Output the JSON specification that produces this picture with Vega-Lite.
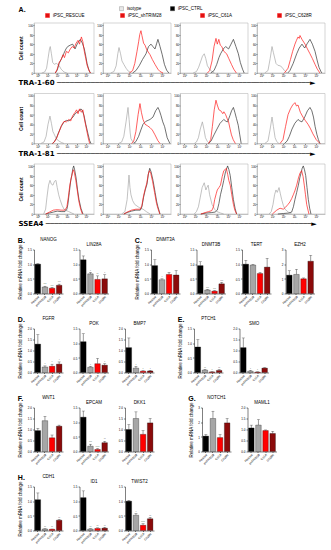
{
"$schema":"https://vega.github.io/schema/vega-lite/v6.json",
"padding":{"left":17,"top":5,"right":2,"bottom":2},
"config":{
 "font":"Liberation Sans",
 "view":{"stroke":null},
 "axis":{"labelFontSize":3,"titleFontSize":4.5,"titleFontWeight":"normal","tickSize":1.5,"tickWidth":0.5,"domainWidth":0.5,"labelPadding":1,"titlePadding":4.5,"grid":false,"domainColor":"#000","tickColor":"#000","labelColor":"#000","titleColor":"#000","labelOverlap":false,"labelFlush":false},
 "title":{"fontSize":4.5,"fontWeight":"normal","offset":2,"color":"#000"}
},
"datasets":{
"TRA-1-60_RESCUE":[
{"s":"isotype","x":0.4,"y":0},{"s":"isotype","x":0.7,"y":2},{"s":"isotype","x":0.9,"y":10},{"s":"isotype","x":1.05,"y":30},{"s":"isotype","x":1.2,"y":50},{"s":"isotype","x":1.28,"y":55},{"s":"isotype","x":1.4,"y":40},{"s":"isotype","x":1.53,"y":22},{"s":"isotype","x":1.7,"y":18},{"s":"isotype","x":1.9,"y":20},{"s":"isotype","x":2.18,"y":16},{"s":"isotype","x":2.4,"y":8},{"s":"isotype","x":2.7,"y":2},{"s":"isotype","x":3.0,"y":0},
{"s":"iPSC_CTRL","x":1.8,"y":0},{"s":"iPSC_CTRL","x":2.0,"y":6},{"s":"iPSC_CTRL","x":2.2,"y":20},{"s":"iPSC_CTRL","x":2.45,"y":30},{"s":"iPSC_CTRL","x":2.67,"y":40},{"s":"iPSC_CTRL","x":2.9,"y":50},{"s":"iPSC_CTRL","x":3.08,"y":55},{"s":"iPSC_CTRL","x":3.35,"y":58},{"s":"iPSC_CTRL","x":3.6,"y":60},{"s":"iPSC_CTRL","x":3.84,"y":50},{"s":"iPSC_CTRL","x":4.1,"y":62},{"s":"iPSC_CTRL","x":4.39,"y":70},{"s":"iPSC_CTRL","x":4.6,"y":62},{"s":"iPSC_CTRL","x":4.8,"y":50},{"s":"iPSC_CTRL","x":4.95,"y":35},{"s":"iPSC_CTRL","x":5.08,"y":20},{"s":"iPSC_CTRL","x":5.25,"y":8},{"s":"iPSC_CTRL","x":5.42,"y":0},
{"s":"iPSC_RESCUE","x":1.8,"y":0},{"s":"iPSC_RESCUE","x":2.0,"y":8},{"s":"iPSC_RESCUE","x":2.2,"y":22},{"s":"iPSC_RESCUE","x":2.4,"y":28},{"s":"iPSC_RESCUE","x":2.6,"y":38},{"s":"iPSC_RESCUE","x":2.75,"y":32},{"s":"iPSC_RESCUE","x":2.95,"y":45},{"s":"iPSC_RESCUE","x":3.15,"y":42},{"s":"iPSC_RESCUE","x":3.35,"y":50},{"s":"iPSC_RESCUE","x":3.55,"y":55},{"s":"iPSC_RESCUE","x":3.75,"y":52},{"s":"iPSC_RESCUE","x":3.95,"y":62},{"s":"iPSC_RESCUE","x":4.15,"y":68},{"s":"iPSC_RESCUE","x":4.3,"y":60},{"s":"iPSC_RESCUE","x":4.5,"y":75},{"s":"iPSC_RESCUE","x":4.65,"y":65},{"s":"iPSC_RESCUE","x":4.8,"y":45},{"s":"iPSC_RESCUE","x":4.95,"y":30},{"s":"iPSC_RESCUE","x":5.1,"y":15},{"s":"iPSC_RESCUE","x":5.3,"y":4},{"s":"iPSC_RESCUE","x":5.45,"y":0}
],
"TRA-1-60_shTRIM28":[
{"s":"isotype","x":0.3,"y":0},{"s":"isotype","x":0.6,"y":3},{"s":"isotype","x":0.8,"y":15},{"s":"isotype","x":0.95,"y":40},{"s":"isotype","x":1.06,"y":53},{"s":"isotype","x":1.2,"y":40},{"s":"isotype","x":1.33,"y":25},{"s":"isotype","x":1.5,"y":18},{"s":"isotype","x":1.7,"y":10},{"s":"isotype","x":1.9,"y":4},{"s":"isotype","x":2.2,"y":0},
{"s":"iPSC_CTRL","x":2.3,"y":0},{"s":"iPSC_CTRL","x":2.6,"y":5},{"s":"iPSC_CTRL","x":2.9,"y":15},{"s":"iPSC_CTRL","x":3.2,"y":28},{"s":"iPSC_CTRL","x":3.52,"y":40},{"s":"iPSC_CTRL","x":3.75,"y":55},{"s":"iPSC_CTRL","x":3.98,"y":60},{"s":"iPSC_CTRL","x":4.15,"y":55},{"s":"iPSC_CTRL","x":4.34,"y":50},{"s":"iPSC_CTRL","x":4.5,"y":62},{"s":"iPSC_CTRL","x":4.61,"y":70},{"s":"iPSC_CTRL","x":4.8,"y":55},{"s":"iPSC_CTRL","x":5.0,"y":38},{"s":"iPSC_CTRL","x":5.2,"y":18},{"s":"iPSC_CTRL","x":5.4,"y":6},{"s":"iPSC_CTRL","x":5.6,"y":0},
{"s":"iPSC_shTRIM28","x":2.0,"y":0},{"s":"iPSC_shTRIM28","x":2.3,"y":5},{"s":"iPSC_shTRIM28","x":2.5,"y":20},{"s":"iPSC_shTRIM28","x":2.7,"y":45},{"s":"iPSC_shTRIM28","x":2.85,"y":65},{"s":"iPSC_shTRIM28","x":2.95,"y":80},{"s":"iPSC_shTRIM28","x":3.06,"y":88},{"s":"iPSC_shTRIM28","x":3.15,"y":78},{"s":"iPSC_shTRIM28","x":3.3,"y":62},{"s":"iPSC_shTRIM28","x":3.43,"y":58},{"s":"iPSC_shTRIM28","x":3.6,"y":48},{"s":"iPSC_shTRIM28","x":3.89,"y":38},{"s":"iPSC_shTRIM28","x":4.1,"y":28},{"s":"iPSC_shTRIM28","x":4.34,"y":18},{"s":"iPSC_shTRIM28","x":4.6,"y":8},{"s":"iPSC_shTRIM28","x":4.8,"y":3},{"s":"iPSC_shTRIM28","x":5.07,"y":0}
],
"TRA-1-60_C61A":[
{"s":"isotype","x":0.8,"y":0},{"s":"isotype","x":1.1,"y":3},{"s":"isotype","x":1.3,"y":12},{"s":"isotype","x":1.5,"y":25},{"s":"isotype","x":1.65,"y":35},{"s":"isotype","x":1.81,"y":40},{"s":"isotype","x":1.95,"y":30},{"s":"isotype","x":2.1,"y":15},{"s":"isotype","x":2.3,"y":8},{"s":"isotype","x":2.5,"y":3},{"s":"isotype","x":2.75,"y":0},
{"s":"iPSC_CTRL","x":2.4,"y":0},{"s":"iPSC_CTRL","x":2.7,"y":5},{"s":"iPSC_CTRL","x":2.95,"y":18},{"s":"iPSC_CTRL","x":3.15,"y":32},{"s":"iPSC_CTRL","x":3.3,"y":40},{"s":"iPSC_CTRL","x":3.55,"y":50},{"s":"iPSC_CTRL","x":3.76,"y":55},{"s":"iPSC_CTRL","x":4.03,"y":50},{"s":"iPSC_CTRL","x":4.25,"y":60},{"s":"iPSC_CTRL","x":4.47,"y":70},{"s":"iPSC_CTRL","x":4.7,"y":55},{"s":"iPSC_CTRL","x":4.92,"y":40},{"s":"iPSC_CTRL","x":5.1,"y":22},{"s":"iPSC_CTRL","x":5.3,"y":8},{"s":"iPSC_CTRL","x":5.45,"y":0},
{"s":"iPSC_C61A","x":2.1,"y":0},{"s":"iPSC_C61A","x":2.3,"y":5},{"s":"iPSC_C61A","x":2.52,"y":25},{"s":"iPSC_C61A","x":2.7,"y":55},{"s":"iPSC_C61A","x":2.88,"y":72},{"s":"iPSC_C61A","x":3.0,"y":60},{"s":"iPSC_C61A","x":3.14,"y":70},{"s":"iPSC_C61A","x":3.27,"y":58},{"s":"iPSC_C61A","x":3.41,"y":55},{"s":"iPSC_C61A","x":3.6,"y":45},{"s":"iPSC_C61A","x":3.85,"y":40},{"s":"iPSC_C61A","x":4.05,"y":30},{"s":"iPSC_C61A","x":4.29,"y":18},{"s":"iPSC_C61A","x":4.5,"y":8},{"s":"iPSC_C61A","x":4.74,"y":0}
],
"TRA-1-60_C628R":[
{"s":"isotype","x":0.3,"y":0},{"s":"isotype","x":0.6,"y":5},{"s":"isotype","x":0.8,"y":30},{"s":"isotype","x":0.97,"y":55},{"s":"isotype","x":1.1,"y":42},{"s":"isotype","x":1.33,"y":20},{"s":"isotype","x":1.5,"y":16},{"s":"isotype","x":1.7,"y":15},{"s":"isotype","x":1.88,"y":12},{"s":"isotype","x":2.1,"y":5},{"s":"isotype","x":2.34,"y":0},
{"s":"iPSC_CTRL","x":2.4,"y":0},{"s":"iPSC_CTRL","x":2.6,"y":5},{"s":"iPSC_CTRL","x":2.9,"y":20},{"s":"iPSC_CTRL","x":3.22,"y":40},{"s":"iPSC_CTRL","x":3.45,"y":52},{"s":"iPSC_CTRL","x":3.7,"y":60},{"s":"iPSC_CTRL","x":3.95,"y":52},{"s":"iPSC_CTRL","x":4.2,"y":62},{"s":"iPSC_CTRL","x":4.43,"y":70},{"s":"iPSC_CTRL","x":4.65,"y":60},{"s":"iPSC_CTRL","x":4.89,"y":45},{"s":"iPSC_CTRL","x":5.1,"y":25},{"s":"iPSC_CTRL","x":5.25,"y":12},{"s":"iPSC_CTRL","x":5.45,"y":2},{"s":"iPSC_CTRL","x":5.53,"y":0},
{"s":"iPSC_C628R","x":2.1,"y":0},{"s":"iPSC_C628R","x":2.43,"y":10},{"s":"iPSC_C628R","x":2.65,"y":28},{"s":"iPSC_C628R","x":2.85,"y":45},{"s":"iPSC_C628R","x":3.06,"y":60},{"s":"iPSC_C628R","x":3.2,"y":68},{"s":"iPSC_C628R","x":3.34,"y":75},{"s":"iPSC_C628R","x":3.45,"y":72},{"s":"iPSC_C628R","x":3.52,"y":78},{"s":"iPSC_C628R","x":3.7,"y":70},{"s":"iPSC_C628R","x":3.98,"y":60},{"s":"iPSC_C628R","x":4.2,"y":50},{"s":"iPSC_C628R","x":4.43,"y":40},{"s":"iPSC_C628R","x":4.65,"y":30},{"s":"iPSC_C628R","x":4.89,"y":18},{"s":"iPSC_C628R","x":5.1,"y":8},{"s":"iPSC_C628R","x":5.34,"y":0}
],
"TRA-1-81_RESCUE":[
{"s":"isotype","x":0.3,"y":0},{"s":"isotype","x":0.63,"y":3},{"s":"isotype","x":0.85,"y":15},{"s":"isotype","x":1.05,"y":40},{"s":"isotype","x":1.25,"y":57},{"s":"isotype","x":1.4,"y":42},{"s":"isotype","x":1.55,"y":25},{"s":"isotype","x":1.67,"y":20},{"s":"isotype","x":1.9,"y":10},{"s":"isotype","x":2.18,"y":5},{"s":"isotype","x":2.45,"y":2},{"s":"isotype","x":2.7,"y":0},
{"s":"iPSC_CTRL","x":1.5,"y":0},{"s":"iPSC_CTRL","x":1.67,"y":3},{"s":"iPSC_CTRL","x":1.9,"y":10},{"s":"iPSC_CTRL","x":2.08,"y":20},{"s":"iPSC_CTRL","x":2.4,"y":35},{"s":"iPSC_CTRL","x":2.7,"y":45},{"s":"iPSC_CTRL","x":2.95,"y":48},{"s":"iPSC_CTRL","x":3.22,"y":47},{"s":"iPSC_CTRL","x":3.45,"y":52},{"s":"iPSC_CTRL","x":3.63,"y":55},{"s":"iPSC_CTRL","x":3.85,"y":62},{"s":"iPSC_CTRL","x":4.04,"y":65},{"s":"iPSC_CTRL","x":4.25,"y":68},{"s":"iPSC_CTRL","x":4.46,"y":72},{"s":"iPSC_CTRL","x":4.6,"y":68},{"s":"iPSC_CTRL","x":4.77,"y":58},{"s":"iPSC_CTRL","x":4.95,"y":40},{"s":"iPSC_CTRL","x":5.18,"y":20},{"s":"iPSC_CTRL","x":5.35,"y":6},{"s":"iPSC_CTRL","x":5.49,"y":0},
{"s":"iPSC_RESCUE","x":1.5,"y":0},{"s":"iPSC_RESCUE","x":1.7,"y":3},{"s":"iPSC_RESCUE","x":1.95,"y":12},{"s":"iPSC_RESCUE","x":2.15,"y":22},{"s":"iPSC_RESCUE","x":2.45,"y":38},{"s":"iPSC_RESCUE","x":2.7,"y":46},{"s":"iPSC_RESCUE","x":2.95,"y":45},{"s":"iPSC_RESCUE","x":3.2,"y":50},{"s":"iPSC_RESCUE","x":3.4,"y":47},{"s":"iPSC_RESCUE","x":3.6,"y":58},{"s":"iPSC_RESCUE","x":3.85,"y":65},{"s":"iPSC_RESCUE","x":4.0,"y":70},{"s":"iPSC_RESCUE","x":4.15,"y":62},{"s":"iPSC_RESCUE","x":4.3,"y":72},{"s":"iPSC_RESCUE","x":4.5,"y":65},{"s":"iPSC_RESCUE","x":4.65,"y":70},{"s":"iPSC_RESCUE","x":4.8,"y":52},{"s":"iPSC_RESCUE","x":5.0,"y":32},{"s":"iPSC_RESCUE","x":5.2,"y":12},{"s":"iPSC_RESCUE","x":5.35,"y":0}
],
"TRA-1-81_shTRIM28":[
{"s":"isotype","x":1.0,"y":0},{"s":"isotype","x":1.3,"y":3},{"s":"isotype","x":1.5,"y":15},{"s":"isotype","x":1.7,"y":45},{"s":"isotype","x":1.88,"y":75},{"s":"isotype","x":1.98,"y":50},{"s":"isotype","x":2.08,"y":22},{"s":"isotype","x":2.15,"y":10},{"s":"isotype","x":2.3,"y":4},{"s":"isotype","x":2.6,"y":0},
{"s":"iPSC_CTRL","x":2.4,"y":0},{"s":"iPSC_CTRL","x":2.6,"y":4},{"s":"iPSC_CTRL","x":2.85,"y":15},{"s":"iPSC_CTRL","x":3.05,"y":28},{"s":"iPSC_CTRL","x":3.25,"y":40},{"s":"iPSC_CTRL","x":3.5,"y":46},{"s":"iPSC_CTRL","x":3.89,"y":50},{"s":"iPSC_CTRL","x":4.16,"y":55},{"s":"iPSC_CTRL","x":4.4,"y":68},{"s":"iPSC_CTRL","x":4.61,"y":75},{"s":"iPSC_CTRL","x":4.75,"y":68},{"s":"iPSC_CTRL","x":4.89,"y":58},{"s":"iPSC_CTRL","x":5.05,"y":45},{"s":"iPSC_CTRL","x":5.22,"y":35},{"s":"iPSC_CTRL","x":5.45,"y":12},{"s":"iPSC_CTRL","x":5.7,"y":0},
{"s":"iPSC_shTRIM28","x":2.2,"y":0},{"s":"iPSC_shTRIM28","x":2.4,"y":5},{"s":"iPSC_shTRIM28","x":2.6,"y":25},{"s":"iPSC_shTRIM28","x":2.8,"y":60},{"s":"iPSC_shTRIM28","x":2.97,"y":83},{"s":"iPSC_shTRIM28","x":3.1,"y":65},{"s":"iPSC_shTRIM28","x":3.25,"y":50},{"s":"iPSC_shTRIM28","x":3.43,"y":40},{"s":"iPSC_shTRIM28","x":3.65,"y":37},{"s":"iPSC_shTRIM28","x":3.89,"y":33},{"s":"iPSC_shTRIM28","x":4.1,"y":28},{"s":"iPSC_shTRIM28","x":4.34,"y":18},{"s":"iPSC_shTRIM28","x":4.6,"y":6},{"s":"iPSC_shTRIM28","x":4.8,"y":0}
],
"TRA-1-81_C61A":[
{"s":"isotype","x":0.9,"y":0},{"s":"isotype","x":1.1,"y":3},{"s":"isotype","x":1.28,"y":12},{"s":"isotype","x":1.45,"y":30},{"s":"isotype","x":1.64,"y":45},{"s":"isotype","x":1.78,"y":30},{"s":"isotype","x":1.92,"y":12},{"s":"isotype","x":2.1,"y":4},{"s":"isotype","x":2.3,"y":0},
{"s":"iPSC_CTRL","x":2.2,"y":0},{"s":"iPSC_CTRL","x":2.43,"y":5},{"s":"iPSC_CTRL","x":2.7,"y":18},{"s":"iPSC_CTRL","x":2.97,"y":30},{"s":"iPSC_CTRL","x":3.25,"y":42},{"s":"iPSC_CTRL","x":3.59,"y":50},{"s":"iPSC_CTRL","x":3.8,"y":46},{"s":"iPSC_CTRL","x":3.94,"y":45},{"s":"iPSC_CTRL","x":4.15,"y":58},{"s":"iPSC_CTRL","x":4.3,"y":68},{"s":"iPSC_CTRL","x":4.47,"y":75},{"s":"iPSC_CTRL","x":4.6,"y":65},{"s":"iPSC_CTRL","x":4.75,"y":52},{"s":"iPSC_CTRL","x":4.91,"y":38},{"s":"iPSC_CTRL","x":5.05,"y":18},{"s":"iPSC_CTRL","x":5.18,"y":0},
{"s":"iPSC_C61A","x":2.2,"y":0},{"s":"iPSC_C61A","x":2.4,"y":8},{"s":"iPSC_C61A","x":2.55,"y":35},{"s":"iPSC_C61A","x":2.72,"y":70},{"s":"iPSC_C61A","x":2.88,"y":90},{"s":"iPSC_C61A","x":3.0,"y":80},{"s":"iPSC_C61A","x":3.15,"y":70},{"s":"iPSC_C61A","x":3.32,"y":68},{"s":"iPSC_C61A","x":3.5,"y":62},{"s":"iPSC_C61A","x":3.6,"y":66},{"s":"iPSC_C61A","x":3.76,"y":60},{"s":"iPSC_C61A","x":3.9,"y":52},{"s":"iPSC_C61A","x":4.03,"y":45},{"s":"iPSC_C61A","x":4.15,"y":32},{"s":"iPSC_C61A","x":4.29,"y":18},{"s":"iPSC_C61A","x":4.45,"y":8},{"s":"iPSC_C61A","x":4.65,"y":0}
],
"TRA-1-81_C628R":[
{"s":"isotype","x":0.3,"y":0},{"s":"isotype","x":0.6,"y":5},{"s":"isotype","x":0.8,"y":30},{"s":"isotype","x":0.97,"y":55},{"s":"isotype","x":1.1,"y":35},{"s":"isotype","x":1.25,"y":12},{"s":"isotype","x":1.4,"y":4},{"s":"isotype","x":1.6,"y":0},
{"s":"iPSC_CTRL","x":2.1,"y":0},{"s":"iPSC_CTRL","x":2.34,"y":5},{"s":"iPSC_CTRL","x":2.55,"y":15},{"s":"iPSC_CTRL","x":2.79,"y":30},{"s":"iPSC_CTRL","x":3.05,"y":42},{"s":"iPSC_CTRL","x":3.34,"y":50},{"s":"iPSC_CTRL","x":3.5,"y":47},{"s":"iPSC_CTRL","x":3.7,"y":45},{"s":"iPSC_CTRL","x":3.95,"y":55},{"s":"iPSC_CTRL","x":4.2,"y":68},{"s":"iPSC_CTRL","x":4.43,"y":75},{"s":"iPSC_CTRL","x":4.6,"y":68},{"s":"iPSC_CTRL","x":4.75,"y":55},{"s":"iPSC_CTRL","x":4.9,"y":35},{"s":"iPSC_CTRL","x":5.07,"y":18},{"s":"iPSC_CTRL","x":5.2,"y":8},{"s":"iPSC_CTRL","x":5.34,"y":0},
{"s":"iPSC_C628R","x":1.7,"y":0},{"s":"iPSC_C628R","x":1.97,"y":8},{"s":"iPSC_C628R","x":2.2,"y":35},{"s":"iPSC_C628R","x":2.43,"y":60},{"s":"iPSC_C628R","x":2.65,"y":72},{"s":"iPSC_C628R","x":2.85,"y":80},{"s":"iPSC_C628R","x":3.06,"y":85},{"s":"iPSC_C628R","x":3.2,"y":78},{"s":"iPSC_C628R","x":3.34,"y":80},{"s":"iPSC_C628R","x":3.55,"y":65},{"s":"iPSC_C628R","x":3.79,"y":55},{"s":"iPSC_C628R","x":4.0,"y":48},{"s":"iPSC_C628R","x":4.25,"y":40},{"s":"iPSC_C628R","x":4.45,"y":32},{"s":"iPSC_C628R","x":4.7,"y":20},{"s":"iPSC_C628R","x":5.0,"y":8},{"s":"iPSC_C628R","x":5.34,"y":0}
],
"SSEA4_RESCUE":[
{"s":"isotype","x":0.6,"y":0},{"s":"isotype","x":0.8,"y":10},{"s":"isotype","x":0.94,"y":35},{"s":"isotype","x":1.1,"y":60},{"s":"isotype","x":1.25,"y":70},{"s":"isotype","x":1.4,"y":62},{"s":"isotype","x":1.56,"y":60},{"s":"isotype","x":1.72,"y":68},{"s":"isotype","x":1.87,"y":70},{"s":"isotype","x":2.0,"y":55},{"s":"isotype","x":2.15,"y":40},{"s":"isotype","x":2.29,"y":30},{"s":"isotype","x":2.5,"y":18},{"s":"isotype","x":2.7,"y":10},{"s":"isotype","x":2.95,"y":7},{"s":"isotype","x":3.2,"y":5},{"s":"isotype","x":3.5,"y":2},{"s":"isotype","x":3.73,"y":0},
{"s":"iPSC_CTRL","x":0.8,"y":0},{"s":"iPSC_CTRL","x":1.2,"y":2},{"s":"iPSC_CTRL","x":1.6,"y":4},{"s":"iPSC_CTRL","x":2.0,"y":6},{"s":"iPSC_CTRL","x":2.4,"y":5},{"s":"iPSC_CTRL","x":2.8,"y":5},{"s":"iPSC_CTRL","x":3.0,"y":10},{"s":"iPSC_CTRL","x":3.1,"y":20},{"s":"iPSC_CTRL","x":3.25,"y":45},{"s":"iPSC_CTRL","x":3.4,"y":70},{"s":"iPSC_CTRL","x":3.5,"y":80},{"s":"iPSC_CTRL","x":3.62,"y":95},{"s":"iPSC_CTRL","x":3.7,"y":100},{"s":"iPSC_CTRL","x":3.8,"y":92},{"s":"iPSC_CTRL","x":3.95,"y":75},{"s":"iPSC_CTRL","x":4.1,"y":50},{"s":"iPSC_CTRL","x":4.25,"y":30},{"s":"iPSC_CTRL","x":4.45,"y":12},{"s":"iPSC_CTRL","x":4.66,"y":0},
{"s":"iPSC_RESCUE","x":0.8,"y":0},{"s":"iPSC_RESCUE","x":1.2,"y":4},{"s":"iPSC_RESCUE","x":1.6,"y":8},{"s":"iPSC_RESCUE","x":2.0,"y":9},{"s":"iPSC_RESCUE","x":2.4,"y":8},{"s":"iPSC_RESCUE","x":2.8,"y":8},{"s":"iPSC_RESCUE","x":3.0,"y":15},{"s":"iPSC_RESCUE","x":3.15,"y":35},{"s":"iPSC_RESCUE","x":3.3,"y":60},{"s":"iPSC_RESCUE","x":3.45,"y":75},{"s":"iPSC_RESCUE","x":3.6,"y":88},{"s":"iPSC_RESCUE","x":3.68,"y":92},{"s":"iPSC_RESCUE","x":3.78,"y":85},{"s":"iPSC_RESCUE","x":3.92,"y":70},{"s":"iPSC_RESCUE","x":4.08,"y":48},{"s":"iPSC_RESCUE","x":4.22,"y":28},{"s":"iPSC_RESCUE","x":4.42,"y":10},{"s":"iPSC_RESCUE","x":4.6,"y":0}
],
"SSEA4_shTRIM28":[
{"s":"isotype","x":1.3,"y":0},{"s":"isotype","x":1.6,"y":5},{"s":"isotype","x":1.8,"y":30},{"s":"isotype","x":1.97,"y":81},{"s":"isotype","x":2.06,"y":55},{"s":"isotype","x":2.15,"y":40},{"s":"isotype","x":2.3,"y":28},{"s":"isotype","x":2.49,"y":20},{"s":"isotype","x":2.8,"y":15},{"s":"isotype","x":3.0,"y":12},{"s":"isotype","x":3.25,"y":10},{"s":"isotype","x":3.55,"y":5},{"s":"isotype","x":3.89,"y":0},
{"s":"iPSC_CTRL","x":1.5,"y":0},{"s":"iPSC_CTRL","x":1.8,"y":3},{"s":"iPSC_CTRL","x":2.2,"y":6},{"s":"iPSC_CTRL","x":2.6,"y":8},{"s":"iPSC_CTRL","x":3.0,"y":8},{"s":"iPSC_CTRL","x":3.15,"y":15},{"s":"iPSC_CTRL","x":3.3,"y":35},{"s":"iPSC_CTRL","x":3.45,"y":50},{"s":"iPSC_CTRL","x":3.61,"y":62},{"s":"iPSC_CTRL","x":3.75,"y":85},{"s":"iPSC_CTRL","x":3.86,"y":95},{"s":"iPSC_CTRL","x":3.98,"y":88},{"s":"iPSC_CTRL","x":4.16,"y":70},{"s":"iPSC_CTRL","x":4.35,"y":45},{"s":"iPSC_CTRL","x":4.5,"y":25},{"s":"iPSC_CTRL","x":4.61,"y":15},{"s":"iPSC_CTRL","x":4.8,"y":0},
{"s":"iPSC_shTRIM28","x":1.5,"y":0},{"s":"iPSC_shTRIM28","x":1.8,"y":4},{"s":"iPSC_shTRIM28","x":2.2,"y":8},{"s":"iPSC_shTRIM28","x":2.6,"y":10},{"s":"iPSC_shTRIM28","x":3.0,"y":10},{"s":"iPSC_shTRIM28","x":3.15,"y":18},{"s":"iPSC_shTRIM28","x":3.3,"y":38},{"s":"iPSC_shTRIM28","x":3.45,"y":52},{"s":"iPSC_shTRIM28","x":3.6,"y":65},{"s":"iPSC_shTRIM28","x":3.72,"y":82},{"s":"iPSC_shTRIM28","x":3.84,"y":90},{"s":"iPSC_shTRIM28","x":3.95,"y":85},{"s":"iPSC_shTRIM28","x":4.12,"y":68},{"s":"iPSC_shTRIM28","x":4.3,"y":45},{"s":"iPSC_shTRIM28","x":4.48,"y":22},{"s":"iPSC_shTRIM28","x":4.6,"y":12},{"s":"iPSC_shTRIM28","x":4.78,"y":0}
],
"SSEA4_C61A":[
{"s":"isotype","x":0.9,"y":0},{"s":"isotype","x":1.1,"y":5},{"s":"isotype","x":1.28,"y":15},{"s":"isotype","x":1.45,"y":35},{"s":"isotype","x":1.62,"y":55},{"s":"isotype","x":1.81,"y":65},{"s":"isotype","x":1.96,"y":50},{"s":"isotype","x":2.05,"y":55},{"s":"isotype","x":2.17,"y":60},{"s":"isotype","x":2.3,"y":40},{"s":"isotype","x":2.52,"y":20},{"s":"isotype","x":2.75,"y":10},{"s":"isotype","x":2.97,"y":5},{"s":"isotype","x":3.3,"y":2},{"s":"isotype","x":3.59,"y":0},
{"s":"iPSC_CTRL","x":1.5,"y":0},{"s":"iPSC_CTRL","x":2.0,"y":2},{"s":"iPSC_CTRL","x":2.5,"y":3},{"s":"iPSC_CTRL","x":2.8,"y":4},{"s":"iPSC_CTRL","x":3.0,"y":8},{"s":"iPSC_CTRL","x":3.15,"y":22},{"s":"iPSC_CTRL","x":3.29,"y":40},{"s":"iPSC_CTRL","x":3.45,"y":55},{"s":"iPSC_CTRL","x":3.59,"y":70},{"s":"iPSC_CTRL","x":3.75,"y":88},{"s":"iPSC_CTRL","x":3.94,"y":100},{"s":"iPSC_CTRL","x":4.06,"y":92},{"s":"iPSC_CTRL","x":4.18,"y":80},{"s":"iPSC_CTRL","x":4.32,"y":55},{"s":"iPSC_CTRL","x":4.47,"y":30},{"s":"iPSC_CTRL","x":4.62,"y":12},{"s":"iPSC_CTRL","x":4.76,"y":0},
{"s":"iPSC_C61A","x":1.5,"y":0},{"s":"iPSC_C61A","x":1.9,"y":3},{"s":"iPSC_C61A","x":2.2,"y":5},{"s":"iPSC_C61A","x":2.5,"y":7},{"s":"iPSC_C61A","x":2.65,"y":15},{"s":"iPSC_C61A","x":2.76,"y":30},{"s":"iPSC_C61A","x":2.9,"y":42},{"s":"iPSC_C61A","x":3.0,"y":50},{"s":"iPSC_C61A","x":3.15,"y":55},{"s":"iPSC_C61A","x":3.29,"y":60},{"s":"iPSC_C61A","x":3.45,"y":78},{"s":"iPSC_C61A","x":3.59,"y":90},{"s":"iPSC_C61A","x":3.7,"y":92},{"s":"iPSC_C61A","x":3.82,"y":95},{"s":"iPSC_C61A","x":3.95,"y":82},{"s":"iPSC_C61A","x":4.05,"y":70},{"s":"iPSC_C61A","x":4.18,"y":60},{"s":"iPSC_C61A","x":4.32,"y":40},{"s":"iPSC_C61A","x":4.47,"y":20},{"s":"iPSC_C61A","x":4.6,"y":8},{"s":"iPSC_C61A","x":4.76,"y":0}
],
"SSEA4_C628R":[
{"s":"isotype","x":0.7,"y":0},{"s":"isotype","x":0.9,"y":5},{"s":"isotype","x":1.06,"y":20},{"s":"isotype","x":1.2,"y":40},{"s":"isotype","x":1.33,"y":50},{"s":"isotype","x":1.45,"y":45},{"s":"isotype","x":1.61,"y":55},{"s":"isotype","x":1.73,"y":42},{"s":"isotype","x":1.85,"y":30},{"s":"isotype","x":2.0,"y":18},{"s":"isotype","x":2.15,"y":10},{"s":"isotype","x":2.45,"y":4},{"s":"isotype","x":2.76,"y":0},
{"s":"iPSC_CTRL","x":1.5,"y":0},{"s":"iPSC_CTRL","x":2.0,"y":1},{"s":"iPSC_CTRL","x":2.5,"y":2},{"s":"iPSC_CTRL","x":2.76,"y":4},{"s":"iPSC_CTRL","x":2.92,"y":15},{"s":"iPSC_CTRL","x":3.06,"y":30},{"s":"iPSC_CTRL","x":3.22,"y":45},{"s":"iPSC_CTRL","x":3.37,"y":60},{"s":"iPSC_CTRL","x":3.5,"y":75},{"s":"iPSC_CTRL","x":3.61,"y":85},{"s":"iPSC_CTRL","x":3.72,"y":95},{"s":"iPSC_CTRL","x":3.82,"y":100},{"s":"iPSC_CTRL","x":3.93,"y":92},{"s":"iPSC_CTRL","x":4.04,"y":80},{"s":"iPSC_CTRL","x":4.16,"y":55},{"s":"iPSC_CTRL","x":4.28,"y":30},{"s":"iPSC_CTRL","x":4.4,"y":12},{"s":"iPSC_CTRL","x":4.52,"y":0},
{"s":"iPSC_C628R","x":1.0,"y":0},{"s":"iPSC_C628R","x":1.4,"y":8},{"s":"iPSC_C628R","x":1.7,"y":12},{"s":"iPSC_C628R","x":2.0,"y":10},{"s":"iPSC_C628R","x":2.2,"y":14},{"s":"iPSC_C628R","x":2.43,"y":20},{"s":"iPSC_C628R","x":2.6,"y":25},{"s":"iPSC_C628R","x":2.76,"y":32},{"s":"iPSC_C628R","x":2.91,"y":40},{"s":"iPSC_C628R","x":3.05,"y":48},{"s":"iPSC_C628R","x":3.22,"y":60},{"s":"iPSC_C628R","x":3.38,"y":75},{"s":"iPSC_C628R","x":3.52,"y":85},{"s":"iPSC_C628R","x":3.67,"y":90},{"s":"iPSC_C628R","x":3.8,"y":78},{"s":"iPSC_C628R","x":3.91,"y":60},{"s":"iPSC_C628R","x":4.02,"y":40},{"s":"iPSC_C628R","x":4.13,"y":20},{"s":"iPSC_C628R","x":4.25,"y":8},{"s":"iPSC_C628R","x":4.34,"y":0}
],
"bars":[
{"g":"NANOG","k":"Rescue","v":1.0,"hi":1.02,"sig":""},{"g":"NANOG","k":"shTRIM28","v":0.22,"hi":0.25,"sig":"***"},{"g":"NANOG","k":"C61A","v":0.18,"hi":0.21,"sig":"***"},{"g":"NANOG","k":"C628R","v":0.28,"hi":0.32,"sig":"***"},
{"g":"LIN28A","k":"Rescue","v":1.15,"hi":1.28,"sig":""},{"g":"LIN28A","k":"shTRIM28","v":0.67,"hi":0.72,"sig":"*"},{"g":"LIN28A","k":"C61A","v":0.48,"hi":0.6,"sig":"**"},{"g":"LIN28A","k":"C628R","v":0.5,"hi":0.64,"sig":"*"},
{"g":"DNMT3A","k":"Rescue","v":0.95,"hi":1.15,"sig":""},{"g":"DNMT3A","k":"shTRIM28","v":0.47,"hi":0.5,"sig":"*"},{"g":"DNMT3A","k":"C61A","v":0.65,"hi":0.72,"sig":""},{"g":"DNMT3A","k":"C628R","v":0.63,"hi":0.78,"sig":""},
{"g":"DNMT3B","k":"Rescue","v":0.95,"hi":1.08,"sig":""},{"g":"DNMT3B","k":"shTRIM28","v":0.12,"hi":0.14,"sig":"***"},{"g":"DNMT3B","k":"C61A","v":0.08,"hi":0.1,"sig":"***"},{"g":"DNMT3B","k":"C628R","v":0.33,"hi":0.38,"sig":"***"},
{"g":"TERT","k":"Rescue","v":1.0,"hi":1.13,"sig":""},{"g":"TERT","k":"shTRIM28","v":0.97,"hi":0.99,"sig":""},{"g":"TERT","k":"C61A","v":0.68,"hi":0.72,"sig":""},{"g":"TERT","k":"C628R","v":0.9,"hi":1.2,"sig":""},
{"g":"EZH2","k":"Rescue","v":1.25,"hi":1.55,"sig":""},{"g":"EZH2","k":"shTRIM28","v":1.3,"hi":1.65,"sig":""},{"g":"EZH2","k":"C61A","v":1.0,"hi":1.06,"sig":""},{"g":"EZH2","k":"C628R","v":2.2,"hi":2.6,"sig":""},
{"g":"FGFR","k":"Rescue","v":1.29,"hi":1.72,"sig":""},{"g":"FGFR","k":"shTRIM28","v":0.25,"hi":0.3,"sig":"*"},{"g":"FGFR","k":"C61A","v":0.28,"hi":0.38,"sig":"*"},{"g":"FGFR","k":"C628R","v":0.38,"hi":0.48,"sig":"*"},
{"g":"POK","k":"Rescue","v":1.05,"hi":1.32,"sig":""},{"g":"POK","k":"shTRIM28","v":0.18,"hi":0.21,"sig":"*"},{"g":"POK","k":"C61A","v":0.3,"hi":0.48,"sig":""},{"g":"POK","k":"C628R","v":0.25,"hi":0.3,"sig":"*"},
{"g":"BMP7","k":"Rescue","v":1.13,"hi":1.57,"sig":""},{"g":"BMP7","k":"shTRIM28","v":0.2,"hi":0.28,"sig":"*"},{"g":"BMP7","k":"C61A","v":0.06,"hi":0.08,"sig":"*"},{"g":"BMP7","k":"C628R","v":0.07,"hi":0.1,"sig":"*"},
{"g":"PTCH1","k":"Rescue","v":0.87,"hi":1.12,"sig":""},{"g":"PTCH1","k":"shTRIM28","v":0.08,"hi":0.11,"sig":"**"},{"g":"PTCH1","k":"C61A","v":0.02,"hi":0.03,"sig":"*"},{"g":"PTCH1","k":"C628R","v":0.07,"hi":0.1,"sig":"**"},
{"g":"SMO","k":"Rescue","v":1.13,"hi":1.57,"sig":""},{"g":"SMO","k":"shTRIM28","v":0.06,"hi":0.1,"sig":"*"},{"g":"SMO","k":"C61A","v":0.02,"hi":0.03,"sig":"*"},{"g":"SMO","k":"C628R","v":0.2,"hi":0.22,"sig":""},
{"g":"WNT1","k":"Rescue","v":0.95,"hi":1.05,"sig":""},{"g":"WNT1","k":"shTRIM28","v":1.4,"hi":1.6,"sig":""},{"g":"WNT1","k":"C61A","v":0.62,"hi":0.75,"sig":""},{"g":"WNT1","k":"C628R","v":1.15,"hi":1.2,"sig":""},
{"g":"EPCAM","k":"Rescue","v":1.17,"hi":1.38,"sig":""},{"g":"EPCAM","k":"shTRIM28","v":0.18,"hi":0.25,"sig":"***"},{"g":"EPCAM","k":"C61A","v":0.07,"hi":0.1,"sig":"****"},{"g":"EPCAM","k":"C628R","v":0.3,"hi":0.35,"sig":"**"},
{"g":"DKK1","k":"Rescue","v":1.0,"hi":1.22,"sig":""},{"g":"DKK1","k":"shTRIM28","v":1.5,"hi":1.8,"sig":""},{"g":"DKK1","k":"C61A","v":0.78,"hi":0.95,"sig":""},{"g":"DKK1","k":"C628R","v":1.3,"hi":1.5,"sig":""},
{"g":"NOTCH1","k":"Rescue","v":1.05,"hi":1.15,"sig":""},{"g":"NOTCH1","k":"shTRIM28","v":2.25,"hi":2.75,"sig":""},{"g":"NOTCH1","k":"C61A","v":0.95,"hi":1.15,"sig":""},{"g":"NOTCH1","k":"C628R","v":1.95,"hi":2.25,"sig":""},
{"g":"MAML1","k":"Rescue","v":1.07,"hi":1.2,"sig":""},{"g":"MAML1","k":"shTRIM28","v":1.2,"hi":1.45,"sig":""},{"g":"MAML1","k":"C61A","v":0.95,"hi":0.98,"sig":""},{"g":"MAML1","k":"C628R","v":0.82,"hi":0.92,"sig":""},
{"g":"CDH1","k":"Rescue","v":1.05,"hi":1.28,"sig":""},{"g":"CDH1","k":"shTRIM28","v":0.05,"hi":0.06,"sig":"**"},{"g":"CDH1","k":"C61A","v":0.04,"hi":0.05,"sig":"**"},{"g":"CDH1","k":"C628R","v":0.35,"hi":0.38,"sig":"**"},
{"g":"ID1","k":"Rescue","v":1.12,"hi":1.35,"sig":""},{"g":"ID1","k":"shTRIM28","v":0.05,"hi":0.06,"sig":"**"},{"g":"ID1","k":"C61A","v":0.07,"hi":0.09,"sig":"**"},{"g":"ID1","k":"C628R","v":0.08,"hi":0.11,"sig":"**"},
{"g":"TWIST2","k":"Rescue","v":1.0,"hi":1.03,"sig":""},{"g":"TWIST2","k":"shTRIM28","v":0.52,"hi":0.58,"sig":"*"},{"g":"TWIST2","k":"C61A","v":0.18,"hi":0.23,"sig":"****"},{"g":"TWIST2","k":"C628R","v":0.4,"hi":0.45,"sig":"**"}
]
},
"resolve":{"scale":{"color":"independent"},"legend":{"color":"independent"}},
"spacing":8.5,
"vconcat":[
{
 "title":{"text":"A.","anchor":"start","fontSize":7,"fontWeight":"bold","offset":0},
 "resolve":{"scale":{"color":"independent"},"legend":{"color":"independent"}},
 "spacing":5.5,
 "vconcat":[
  {"title":{"text":"TRA-1-60 ────────────────────────────────────────────────────────────►","orient":"bottom","anchor":"start","fontSize":7,"fontWeight":"bold","font":"DejaVu Sans","offset":1.5},
   "spacing":1,
   "resolve":{"scale":{"color":"independent"},"legend":{"color":"independent"}},
   "hconcat":[
    {"width":60,"height":50,"view":{"stroke":"#aaaaaa","strokeWidth":0.5},"data":{"name":"TRA-1-60_RESCUE"},
     "encoding":{"x":{"field":"x","type":"quantitative","scale":{"domain":[-0.4,5.8],"nice":false,"zero":false},"axis":{"values":[0,1,2,3,4,5],"labelExpr":"'10'+['⁰','¹','²','³','⁴','⁵'][datum.value]","title":null,"labelFontSize":2.8,"tickSize":1,"labelPadding":0.5,"domainColor":"#999"}},
      "y":{"field":"y","type":"quantitative","scale":{"domain":[0,104],"nice":false},"axis":{"values":[0,20,40,60,80,100],"title":"Cell count","titleFontSize":5,"titleFontWeight":"bold","labelFontSize":2.8,"tickSize":1,"labelPadding":0.5,"domainColor":"#999","titlePadding":4}}},
     "layer":[
      {"transform":[{"filter":"datum.s==='isotype'||datum.s==='iPSC_CTRL'"}],"mark":{"type":"line","strokeWidth":0.7},
       "encoding":{"stroke":{"field":"s","type":"nominal","scale":{"domain":["isotype","iPSC_CTRL"],"range":["#a8a8a8","#333333"]},"legend":{"orient":"none","legendX":85,"legendY":-17,"direction":"horizontal","title":null,"symbolType":"square","symbolSize":16,"labelFontSize":4.5,"columnPadding":27,"labelOffset":3,"encode":{"symbols":{"update":{"fill":{"signal":"datum.value==='isotype'?'#e8e8e8':'#000000'"},"stroke":{"signal":"datum.value==='isotype'?'#555555':'#000000'"},"strokeWidth":{"value":0.6}}}}}}}},
      {"transform":[{"filter":"datum.s!=='isotype'&&datum.s!=='iPSC_CTRL'"}],"mark":{"type":"line","strokeWidth":0.7},
       "encoding":{"color":{"field":"s","type":"nominal","scale":{"range":["#ff1a1a"]},"legend":{"orient":"none","legendX":11,"legendY":-10,"title":null,"symbolType":"square","symbolSize":16,"labelFontSize":4.5,"labelOffset":3,"encode":{"symbols":{"update":{"fill":{"value":"#e01010"},"stroke":{"value":"#000000"},"strokeWidth":{"value":0.5}}}}}}}}
     ]},
    {"width":68,"height":50,"view":{"stroke":"#aaaaaa","strokeWidth":0.5},"data":{"name":"TRA-1-60_shTRIM28"},
     "encoding":{"x":{"field":"x","type":"quantitative","scale":{"domain":[-0.4,5.8],"nice":false,"zero":false},"axis":{"values":[0,1,2,3,4,5],"labelExpr":"'10'+['⁰','¹','²','³','⁴','⁵'][datum.value]","title":null,"labelFontSize":2.8,"tickSize":1,"labelPadding":0.5,"domainColor":"#999"}},
      "y":{"field":"y","type":"quantitative","scale":{"domain":[0,104],"nice":false},"axis":{"values":[0,20,40,60,80,100],"title":null,"labelFontSize":2.8,"tickSize":1,"labelPadding":0.5,"domainColor":"#999"}}},
     "layer":[
      {"transform":[{"filter":"datum.s==='isotype'||datum.s==='iPSC_CTRL'"}],"mark":{"type":"line","strokeWidth":0.7},
       "encoding":{"stroke":{"field":"s","type":"nominal","scale":{"domain":["isotype","iPSC_CTRL"],"range":["#a8a8a8","#333333"]}}}},
      {"transform":[{"filter":"datum.s!=='isotype'&&datum.s!=='iPSC_CTRL'"}],"mark":{"type":"line","strokeWidth":0.7},
       "encoding":{"color":{"field":"s","type":"nominal","scale":{"range":["#ff1a1a"]},"legend":{"orient":"none","legendX":17,"legendY":-10,"title":null,"symbolType":"square","symbolSize":16,"labelFontSize":4.5,"labelOffset":3,"encode":{"symbols":{"update":{"fill":{"value":"#e01010"},"stroke":{"value":"#000000"},"strokeWidth":{"value":0.5}}}}}}}}
     ]},
    {"width":68,"height":50,"view":{"stroke":"#aaaaaa","strokeWidth":0.5},"data":{"name":"TRA-1-60_C61A"},
     "encoding":{"x":{"field":"x","type":"quantitative","scale":{"domain":[-0.4,5.8],"nice":false,"zero":false},"axis":{"values":[0,1,2,3,4,5],"labelExpr":"'10'+['⁰','¹','²','³','⁴','⁵'][datum.value]","title":null,"labelFontSize":2.8,"tickSize":1,"labelPadding":0.5,"domainColor":"#999"}},
      "y":{"field":"y","type":"quantitative","scale":{"domain":[0,104],"nice":false},"axis":{"values":[0,20,40,60,80,100],"title":null,"labelFontSize":2.8,"tickSize":1,"labelPadding":0.5,"domainColor":"#999"}}},
     "layer":[
      {"transform":[{"filter":"datum.s==='isotype'||datum.s==='iPSC_CTRL'"}],"mark":{"type":"line","strokeWidth":0.7},
       "encoding":{"stroke":{"field":"s","type":"nominal","scale":{"domain":["isotype","iPSC_CTRL"],"range":["#a8a8a8","#333333"]}}}},
      {"transform":[{"filter":"datum.s!=='isotype'&&datum.s!=='iPSC_CTRL'"}],"mark":{"type":"line","strokeWidth":0.7},
       "encoding":{"color":{"field":"s","type":"nominal","scale":{"range":["#ff1a1a"]},"legend":{"orient":"none","legendX":20,"legendY":-10,"title":null,"symbolType":"square","symbolSize":16,"labelFontSize":4.5,"labelOffset":3,"encode":{"symbols":{"update":{"fill":{"value":"#e01010"},"stroke":{"value":"#000000"},"strokeWidth":{"value":0.5}}}}}}}}
     ]},
    {"width":68,"height":50,"view":{"stroke":"#aaaaaa","strokeWidth":0.5},"data":{"name":"TRA-1-60_C628R"},
     "encoding":{"x":{"field":"x","type":"quantitative","scale":{"domain":[-0.4,5.8],"nice":false,"zero":false},"axis":{"values":[0,1,2,3,4,5],"labelExpr":"'10'+['⁰','¹','²','³','⁴','⁵'][datum.value]","title":null,"labelFontSize":2.8,"tickSize":1,"labelPadding":0.5,"domainColor":"#999"}},
      "y":{"field":"y","type":"quantitative","scale":{"domain":[0,104],"nice":false},"axis":{"values":[0,20,40,60,80,100],"title":null,"labelFontSize":2.8,"tickSize":1,"labelPadding":0.5,"domainColor":"#999"}}},
     "layer":[
      {"transform":[{"filter":"datum.s==='isotype'||datum.s==='iPSC_CTRL'"}],"mark":{"type":"line","strokeWidth":0.7},
       "encoding":{"stroke":{"field":"s","type":"nominal","scale":{"domain":["isotype","iPSC_CTRL"],"range":["#a8a8a8","#333333"]}}}},
      {"transform":[{"filter":"datum.s!=='isotype'&&datum.s!=='iPSC_CTRL'"}],"mark":{"type":"line","strokeWidth":0.7},
       "encoding":{"color":{"field":"s","type":"nominal","scale":{"range":["#ff1a1a"]},"legend":{"orient":"none","legendX":20,"legendY":-10,"title":null,"symbolType":"square","symbolSize":16,"labelFontSize":4.5,"labelOffset":3,"encode":{"symbols":{"update":{"fill":{"value":"#e01010"},"stroke":{"value":"#000000"},"strokeWidth":{"value":0.5}}}}}}}}
     ]}
   ]},
  {"title":{"text":"TRA-1-81 ────────────────────────────────────────────────────────────►","orient":"bottom","anchor":"start","fontSize":7,"fontWeight":"bold","font":"DejaVu Sans","offset":1.5},
   "spacing":1,
   "resolve":{"scale":{"color":"independent"},"legend":{"color":"independent"}},
   "hconcat":[
    {"width":60,"height":50,"view":{"stroke":"#aaaaaa","strokeWidth":0.5},"data":{"name":"TRA-1-81_RESCUE"},
     "encoding":{"x":{"field":"x","type":"quantitative","scale":{"domain":[-0.4,5.8],"nice":false,"zero":false},"axis":{"values":[0,1,2,3,4,5],"labelExpr":"'10'+['⁰','¹','²','³','⁴','⁵'][datum.value]","title":null,"labelFontSize":2.8,"tickSize":1,"labelPadding":0.5,"domainColor":"#999"}},
      "y":{"field":"y","type":"quantitative","scale":{"domain":[0,104],"nice":false},"axis":{"values":[0,20,40,60,80,100],"title":"Cell count","titleFontSize":5,"titleFontWeight":"bold","labelFontSize":2.8,"tickSize":1,"labelPadding":0.5,"domainColor":"#999","titlePadding":4}}},
     "layer":[
      {"transform":[{"filter":"datum.s==='isotype'||datum.s==='iPSC_CTRL'"}],"mark":{"type":"line","strokeWidth":0.7},
       "encoding":{"stroke":{"field":"s","type":"nominal","scale":{"domain":["isotype","iPSC_CTRL"],"range":["#a8a8a8","#333333"]}}}},
      {"transform":[{"filter":"datum.s!=='isotype'&&datum.s!=='iPSC_CTRL'"}],"mark":{"type":"line","strokeWidth":0.7},
       "encoding":{"color":{"field":"s","type":"nominal","scale":{"range":["#ff1a1a"]},"legend":null}}}
     ]},
    {"width":68,"height":50,"view":{"stroke":"#aaaaaa","strokeWidth":0.5},"data":{"name":"TRA-1-81_shTRIM28"},
     "encoding":{"x":{"field":"x","type":"quantitative","scale":{"domain":[-0.4,5.8],"nice":false,"zero":false},"axis":{"values":[0,1,2,3,4,5],"labelExpr":"'10'+['⁰','¹','²','³','⁴','⁵'][datum.value]","title":null,"labelFontSize":2.8,"tickSize":1,"labelPadding":0.5,"domainColor":"#999"}},
      "y":{"field":"y","type":"quantitative","scale":{"domain":[0,104],"nice":false},"axis":{"values":[0,20,40,60,80,100],"title":null,"labelFontSize":2.8,"tickSize":1,"labelPadding":0.5,"domainColor":"#999"}}},
     "layer":[
      {"transform":[{"filter":"datum.s==='isotype'||datum.s==='iPSC_CTRL'"}],"mark":{"type":"line","strokeWidth":0.7},
       "encoding":{"stroke":{"field":"s","type":"nominal","scale":{"domain":["isotype","iPSC_CTRL"],"range":["#a8a8a8","#333333"]}}}},
      {"transform":[{"filter":"datum.s!=='isotype'&&datum.s!=='iPSC_CTRL'"}],"mark":{"type":"line","strokeWidth":0.7},
       "encoding":{"color":{"field":"s","type":"nominal","scale":{"range":["#ff1a1a"]},"legend":null}}}
     ]},
    {"width":68,"height":50,"view":{"stroke":"#aaaaaa","strokeWidth":0.5},"data":{"name":"TRA-1-81_C61A"},
     "encoding":{"x":{"field":"x","type":"quantitative","scale":{"domain":[-0.4,5.8],"nice":false,"zero":false},"axis":{"values":[0,1,2,3,4,5],"labelExpr":"'10'+['⁰','¹','²','³','⁴','⁵'][datum.value]","title":null,"labelFontSize":2.8,"tickSize":1,"labelPadding":0.5,"domainColor":"#999"}},
      "y":{"field":"y","type":"quantitative","scale":{"domain":[0,104],"nice":false},"axis":{"values":[0,20,40,60,80,100],"title":null,"labelFontSize":2.8,"tickSize":1,"labelPadding":0.5,"domainColor":"#999"}}},
     "layer":[
      {"transform":[{"filter":"datum.s==='isotype'||datum.s==='iPSC_CTRL'"}],"mark":{"type":"line","strokeWidth":0.7},
       "encoding":{"stroke":{"field":"s","type":"nominal","scale":{"domain":["isotype","iPSC_CTRL"],"range":["#a8a8a8","#333333"]}}}},
      {"transform":[{"filter":"datum.s!=='isotype'&&datum.s!=='iPSC_CTRL'"}],"mark":{"type":"line","strokeWidth":0.7},
       "encoding":{"color":{"field":"s","type":"nominal","scale":{"range":["#ff1a1a"]},"legend":null}}}
     ]},
    {"width":68,"height":50,"view":{"stroke":"#aaaaaa","strokeWidth":0.5},"data":{"name":"TRA-1-81_C628R"},
     "encoding":{"x":{"field":"x","type":"quantitative","scale":{"domain":[-0.4,5.8],"nice":false,"zero":false},"axis":{"values":[0,1,2,3,4,5],"labelExpr":"'10'+['⁰','¹','²','³','⁴','⁵'][datum.value]","title":null,"labelFontSize":2.8,"tickSize":1,"labelPadding":0.5,"domainColor":"#999"}},
      "y":{"field":"y","type":"quantitative","scale":{"domain":[0,104],"nice":false},"axis":{"values":[0,20,40,60,80,100],"title":null,"labelFontSize":2.8,"tickSize":1,"labelPadding":0.5,"domainColor":"#999"}}},
     "layer":[
      {"transform":[{"filter":"datum.s==='isotype'||datum.s==='iPSC_CTRL'"}],"mark":{"type":"line","strokeWidth":0.7},
       "encoding":{"stroke":{"field":"s","type":"nominal","scale":{"domain":["isotype","iPSC_CTRL"],"range":["#a8a8a8","#333333"]}}}},
      {"transform":[{"filter":"datum.s!=='isotype'&&datum.s!=='iPSC_CTRL'"}],"mark":{"type":"line","strokeWidth":0.7},
       "encoding":{"color":{"field":"s","type":"nominal","scale":{"range":["#ff1a1a"]},"legend":null}}}
     ]}
   ]},
  {"title":{"text":"SSEA4 ───────────────────────────────────────────────────────────────►","orient":"bottom","anchor":"start","fontSize":7,"fontWeight":"bold","font":"DejaVu Sans","offset":1.5},
   "spacing":1,
   "resolve":{"scale":{"color":"independent"},"legend":{"color":"independent"}},
   "hconcat":[
    {"width":60,"height":50,"view":{"stroke":"#aaaaaa","strokeWidth":0.5},"data":{"name":"SSEA4_RESCUE"},
     "encoding":{"x":{"field":"x","type":"quantitative","scale":{"domain":[-0.4,5.8],"nice":false,"zero":false},"axis":{"values":[0,1,2,3,4,5],"labelExpr":"'10'+['⁰','¹','²','³','⁴','⁵'][datum.value]","title":null,"labelFontSize":2.8,"tickSize":1,"labelPadding":0.5,"domainColor":"#999"}},
      "y":{"field":"y","type":"quantitative","scale":{"domain":[0,104],"nice":false},"axis":{"values":[0,20,40,60,80,100],"title":"Cell count","titleFontSize":5,"titleFontWeight":"bold","labelFontSize":2.8,"tickSize":1,"labelPadding":0.5,"domainColor":"#999","titlePadding":4}}},
     "layer":[
      {"transform":[{"filter":"datum.s==='isotype'||datum.s==='iPSC_CTRL'"}],"mark":{"type":"line","strokeWidth":0.7},
       "encoding":{"stroke":{"field":"s","type":"nominal","scale":{"domain":["isotype","iPSC_CTRL"],"range":["#a8a8a8","#333333"]}}}},
      {"transform":[{"filter":"datum.s!=='isotype'&&datum.s!=='iPSC_CTRL'"}],"mark":{"type":"line","strokeWidth":0.7},
       "encoding":{"color":{"field":"s","type":"nominal","scale":{"range":["#ff1a1a"]},"legend":null}}}
     ]},
    {"width":68,"height":50,"view":{"stroke":"#aaaaaa","strokeWidth":0.5},"data":{"name":"SSEA4_shTRIM28"},
     "encoding":{"x":{"field":"x","type":"quantitative","scale":{"domain":[-0.4,5.8],"nice":false,"zero":false},"axis":{"values":[0,1,2,3,4,5],"labelExpr":"'10'+['⁰','¹','²','³','⁴','⁵'][datum.value]","title":null,"labelFontSize":2.8,"tickSize":1,"labelPadding":0.5,"domainColor":"#999"}},
      "y":{"field":"y","type":"quantitative","scale":{"domain":[0,104],"nice":false},"axis":{"values":[0,20,40,60,80,100],"title":null,"labelFontSize":2.8,"tickSize":1,"labelPadding":0.5,"domainColor":"#999"}}},
     "layer":[
      {"transform":[{"filter":"datum.s==='isotype'||datum.s==='iPSC_CTRL'"}],"mark":{"type":"line","strokeWidth":0.7},
       "encoding":{"stroke":{"field":"s","type":"nominal","scale":{"domain":["isotype","iPSC_CTRL"],"range":["#a8a8a8","#333333"]}}}},
      {"transform":[{"filter":"datum.s!=='isotype'&&datum.s!=='iPSC_CTRL'"}],"mark":{"type":"line","strokeWidth":0.7},
       "encoding":{"color":{"field":"s","type":"nominal","scale":{"range":["#ff1a1a"]},"legend":null}}}
     ]},
    {"width":68,"height":50,"view":{"stroke":"#aaaaaa","strokeWidth":0.5},"data":{"name":"SSEA4_C61A"},
     "encoding":{"x":{"field":"x","type":"quantitative","scale":{"domain":[-0.4,5.8],"nice":false,"zero":false},"axis":{"values":[0,1,2,3,4,5],"labelExpr":"'10'+['⁰','¹','²','³','⁴','⁵'][datum.value]","title":null,"labelFontSize":2.8,"tickSize":1,"labelPadding":0.5,"domainColor":"#999"}},
      "y":{"field":"y","type":"quantitative","scale":{"domain":[0,104],"nice":false},"axis":{"values":[0,20,40,60,80,100],"title":null,"labelFontSize":2.8,"tickSize":1,"labelPadding":0.5,"domainColor":"#999"}}},
     "layer":[
      {"transform":[{"filter":"datum.s==='isotype'||datum.s==='iPSC_CTRL'"}],"mark":{"type":"line","strokeWidth":0.7},
       "encoding":{"stroke":{"field":"s","type":"nominal","scale":{"domain":["isotype","iPSC_CTRL"],"range":["#a8a8a8","#333333"]}}}},
      {"transform":[{"filter":"datum.s!=='isotype'&&datum.s!=='iPSC_CTRL'"}],"mark":{"type":"line","strokeWidth":0.7},
       "encoding":{"color":{"field":"s","type":"nominal","scale":{"range":["#ff1a1a"]},"legend":null}}}
     ]},
    {"width":68,"height":50,"view":{"stroke":"#aaaaaa","strokeWidth":0.5},"data":{"name":"SSEA4_C628R"},
     "encoding":{"x":{"field":"x","type":"quantitative","scale":{"domain":[-0.4,5.8],"nice":false,"zero":false},"axis":{"values":[0,1,2,3,4,5],"labelExpr":"'10'+['⁰','¹','²','³','⁴','⁵'][datum.value]","title":null,"labelFontSize":2.8,"tickSize":1,"labelPadding":0.5,"domainColor":"#999"}},
      "y":{"field":"y","type":"quantitative","scale":{"domain":[0,104],"nice":false},"axis":{"values":[0,20,40,60,80,100],"title":null,"labelFontSize":2.8,"tickSize":1,"labelPadding":0.5,"domainColor":"#999"}}},
     "layer":[
      {"transform":[{"filter":"datum.s==='isotype'||datum.s==='iPSC_CTRL'"}],"mark":{"type":"line","strokeWidth":0.7},
       "encoding":{"stroke":{"field":"s","type":"nominal","scale":{"domain":["isotype","iPSC_CTRL"],"range":["#a8a8a8","#333333"]}}}},
      {"transform":[{"filter":"datum.s!=='isotype'&&datum.s!=='iPSC_CTRL'"}],"mark":{"type":"line","strokeWidth":0.7},
       "encoding":{"color":{"field":"s","type":"nominal","scale":{"range":["#ff1a1a"]},"legend":null}}}
     ]}
   ]}
 ]
},
{
 "spacing":8,
 "vconcat":[
{
 "spacing":25,
 "hconcat":[
  {"title":{"text":"B.","anchor":"start","fontSize":7,"fontWeight":"bold","offset":-7},"spacing":9.5,
   "hconcat":[
    {"width":29,"height":44,"title":"NANOG","data":{"name":"bars"},"transform":[{"filter":"datum.g==='NANOG'"}],
     "encoding":{"x":{"field":"k","type":"nominal","sort":["Rescue","shTRIM28","C61A","C628R"],"scale":{"paddingInner":0.22,"paddingOuter":0.15},"axis":{"title":null,"labelAngle":-45,"labelFontSize":3,"tickSize":1,"labelPadding":0.5}},
      "y":{"field":"v","type":"quantitative","scale":{"domain":[0,1.5],"nice":false},"axis":{"values":[0,0.5,1,1.5],"format":".1f","title":"Relative mRNA fold change"}}},
     "layer":[
      {"mark":{"type":"rule","strokeWidth":0.4,"color":"#000"},"encoding":{"y2":{"field":"hi"}}},
      {"mark":{"type":"tick","orient":"horizontal","size":3,"thickness":0.4,"color":"#000"},"encoding":{"y":{"field":"hi","type":"quantitative"}}},
      {"mark":{"type":"bar","stroke":"#000","strokeWidth":0.3},"encoding":{"fill":{"field":"k","type":"nominal","scale":{"domain":["Rescue","shTRIM28","C61A","C628R"],"range":["#000000","#a6a6a6","#ff0000","#8b0a0a"]},"legend":null}}},
      {"mark":{"type":"text","fontSize":2.5,"baseline":"bottom","dy":-0.5},"encoding":{"y":{"field":"hi","type":"quantitative"},"text":{"field":"sig"}}}
     ]},
    {"width":29,"height":44,"title":"LIN28A","data":{"name":"bars"},"transform":[{"filter":"datum.g==='LIN28A'"}],
     "encoding":{"x":{"field":"k","type":"nominal","sort":["Rescue","shTRIM28","C61A","C628R"],"scale":{"paddingInner":0.22,"paddingOuter":0.15},"axis":{"title":null,"labelAngle":-45,"labelFontSize":3,"tickSize":1,"labelPadding":0.5}},
      "y":{"field":"v","type":"quantitative","scale":{"domain":[0,1.5],"nice":false},"axis":{"values":[0,0.5,1,1.5],"format":".1f","title":null}}},
     "layer":[
      {"mark":{"type":"rule","strokeWidth":0.4,"color":"#000"},"encoding":{"y2":{"field":"hi"}}},
      {"mark":{"type":"tick","orient":"horizontal","size":3,"thickness":0.4,"color":"#000"},"encoding":{"y":{"field":"hi","type":"quantitative"}}},
      {"mark":{"type":"bar","stroke":"#000","strokeWidth":0.3},"encoding":{"fill":{"field":"k","type":"nominal","scale":{"domain":["Rescue","shTRIM28","C61A","C628R"],"range":["#000000","#a6a6a6","#ff0000","#8b0a0a"]},"legend":null}}},
      {"mark":{"type":"text","fontSize":2.5,"baseline":"bottom","dy":-0.5},"encoding":{"y":{"field":"hi","type":"quantitative"},"text":{"field":"sig"}}}
     ]}
   ]},
  {"title":{"text":"C.","anchor":"start","fontSize":7,"fontWeight":"bold","offset":-7},"spacing":9.5,
   "hconcat":[
    {"width":29,"height":44,"title":"DNMT3A","data":{"name":"bars"},"transform":[{"filter":"datum.g==='DNMT3A'"}],
     "encoding":{"x":{"field":"k","type":"nominal","sort":["Rescue","shTRIM28","C61A","C628R"],"scale":{"paddingInner":0.22,"paddingOuter":0.15},"axis":{"title":null,"labelAngle":-45,"labelFontSize":3,"tickSize":1,"labelPadding":0.5}},
      "y":{"field":"v","type":"quantitative","scale":{"domain":[0,1.5],"nice":false},"axis":{"values":[0,0.5,1,1.5],"format":".1f","title":"Relative mRNA fold change"}}},
     "layer":[
      {"mark":{"type":"rule","strokeWidth":0.4,"color":"#000"},"encoding":{"y2":{"field":"hi"}}},
      {"mark":{"type":"tick","orient":"horizontal","size":3,"thickness":0.4,"color":"#000"},"encoding":{"y":{"field":"hi","type":"quantitative"}}},
      {"mark":{"type":"bar","stroke":"#000","strokeWidth":0.3},"encoding":{"fill":{"field":"k","type":"nominal","scale":{"domain":["Rescue","shTRIM28","C61A","C628R"],"range":["#000000","#a6a6a6","#ff0000","#8b0a0a"]},"legend":null}}},
      {"mark":{"type":"text","fontSize":2.5,"baseline":"bottom","dy":-0.5},"encoding":{"y":{"field":"hi","type":"quantitative"},"text":{"field":"sig"}}}
     ]},
    {"width":29,"height":44,"title":"DNMT3B","data":{"name":"bars"},"transform":[{"filter":"datum.g==='DNMT3B'"}],
     "encoding":{"x":{"field":"k","type":"nominal","sort":["Rescue","shTRIM28","C61A","C628R"],"scale":{"paddingInner":0.22,"paddingOuter":0.15},"axis":{"title":null,"labelAngle":-45,"labelFontSize":3,"tickSize":1,"labelPadding":0.5}},
      "y":{"field":"v","type":"quantitative","scale":{"domain":[0,1.5],"nice":false},"axis":{"values":[0,0.5,1,1.5],"format":".1f","title":null}}},
     "layer":[
      {"mark":{"type":"rule","strokeWidth":0.4,"color":"#000"},"encoding":{"y2":{"field":"hi"}}},
      {"mark":{"type":"tick","orient":"horizontal","size":3,"thickness":0.4,"color":"#000"},"encoding":{"y":{"field":"hi","type":"quantitative"}}},
      {"mark":{"type":"bar","stroke":"#000","strokeWidth":0.3},"encoding":{"fill":{"field":"k","type":"nominal","scale":{"domain":["Rescue","shTRIM28","C61A","C628R"],"range":["#000000","#a6a6a6","#ff0000","#8b0a0a"]},"legend":null}}},
      {"mark":{"type":"text","fontSize":2.5,"baseline":"bottom","dy":-0.5},"encoding":{"y":{"field":"hi","type":"quantitative"},"text":{"field":"sig"}}}
     ]},
    {"width":29,"height":44,"title":"TERT","data":{"name":"bars"},"transform":[{"filter":"datum.g==='TERT'"}],
     "encoding":{"x":{"field":"k","type":"nominal","sort":["Rescue","shTRIM28","C61A","C628R"],"scale":{"paddingInner":0.22,"paddingOuter":0.15},"axis":{"title":null,"labelAngle":-45,"labelFontSize":3,"tickSize":1,"labelPadding":0.5}},
      "y":{"field":"v","type":"quantitative","scale":{"domain":[0,1.5],"nice":false},"axis":{"values":[0,0.5,1,1.5],"format":".1f","title":null}}},
     "layer":[
      {"mark":{"type":"rule","strokeWidth":0.4,"color":"#000"},"encoding":{"y2":{"field":"hi"}}},
      {"mark":{"type":"tick","orient":"horizontal","size":3,"thickness":0.4,"color":"#000"},"encoding":{"y":{"field":"hi","type":"quantitative"}}},
      {"mark":{"type":"bar","stroke":"#000","strokeWidth":0.3},"encoding":{"fill":{"field":"k","type":"nominal","scale":{"domain":["Rescue","shTRIM28","C61A","C628R"],"range":["#000000","#a6a6a6","#ff0000","#8b0a0a"]},"legend":null}}},
      {"mark":{"type":"text","fontSize":2.5,"baseline":"bottom","dy":-0.5},"encoding":{"y":{"field":"hi","type":"quantitative"},"text":{"field":"sig"}}}
     ]},
    {"width":29,"height":44,"title":"EZH2","data":{"name":"bars"},"transform":[{"filter":"datum.g==='EZH2'"}],
     "encoding":{"x":{"field":"k","type":"nominal","sort":["Rescue","shTRIM28","C61A","C628R"],"scale":{"paddingInner":0.22,"paddingOuter":0.15},"axis":{"title":null,"labelAngle":-45,"labelFontSize":3,"tickSize":1,"labelPadding":0.5}},
      "y":{"field":"v","type":"quantitative","scale":{"domain":[0,3],"nice":false},"axis":{"values":[0,1,2,3],"format":"d","title":null}}},
     "layer":[
      {"mark":{"type":"rule","strokeWidth":0.4,"color":"#000"},"encoding":{"y2":{"field":"hi"}}},
      {"mark":{"type":"tick","orient":"horizontal","size":3,"thickness":0.4,"color":"#000"},"encoding":{"y":{"field":"hi","type":"quantitative"}}},
      {"mark":{"type":"bar","stroke":"#000","strokeWidth":0.3},"encoding":{"fill":{"field":"k","type":"nominal","scale":{"domain":["Rescue","shTRIM28","C61A","C628R"],"range":["#000000","#a6a6a6","#ff0000","#8b0a0a"]},"legend":null}}},
      {"mark":{"type":"text","fontSize":2.5,"baseline":"bottom","dy":-0.5},"encoding":{"y":{"field":"hi","type":"quantitative"},"text":{"field":"sig"}}}
     ]}
   ]}
 ]
},
{
 "spacing":23,
 "hconcat":[
  {"title":{"text":"D.","anchor":"start","fontSize":7,"fontWeight":"bold","offset":-7},"spacing":9.5,
   "hconcat":[
    {"width":29,"height":44,"title":"FGFR","data":{"name":"bars"},"transform":[{"filter":"datum.g==='FGFR'"}],
     "encoding":{"x":{"field":"k","type":"nominal","sort":["Rescue","shTRIM28","C61A","C628R"],"scale":{"paddingInner":0.22,"paddingOuter":0.15},"axis":{"title":null,"labelAngle":-45,"labelFontSize":3,"tickSize":1,"labelPadding":0.5}},
      "y":{"field":"v","type":"quantitative","scale":{"domain":[0,2],"nice":false},"axis":{"values":[0,0.5,1,1.5,2],"format":".1f","title":"Relative mRNA fold change"}}},
     "layer":[
      {"mark":{"type":"rule","strokeWidth":0.4,"color":"#000"},"encoding":{"y2":{"field":"hi"}}},
      {"mark":{"type":"tick","orient":"horizontal","size":3,"thickness":0.4,"color":"#000"},"encoding":{"y":{"field":"hi","type":"quantitative"}}},
      {"mark":{"type":"bar","stroke":"#000","strokeWidth":0.3},"encoding":{"fill":{"field":"k","type":"nominal","scale":{"domain":["Rescue","shTRIM28","C61A","C628R"],"range":["#000000","#a6a6a6","#ff0000","#8b0a0a"]},"legend":null}}},
      {"mark":{"type":"text","fontSize":2.5,"baseline":"bottom","dy":-0.5},"encoding":{"y":{"field":"hi","type":"quantitative"},"text":{"field":"sig"}}}
     ]},
    {"width":29,"height":44,"title":"POK","data":{"name":"bars"},"transform":[{"filter":"datum.g==='POK'"}],
     "encoding":{"x":{"field":"k","type":"nominal","sort":["Rescue","shTRIM28","C61A","C628R"],"scale":{"paddingInner":0.22,"paddingOuter":0.15},"axis":{"title":null,"labelAngle":-45,"labelFontSize":3,"tickSize":1,"labelPadding":0.5}},
      "y":{"field":"v","type":"quantitative","scale":{"domain":[0,1.5],"nice":false},"axis":{"values":[0,0.5,1,1.5],"format":".1f","title":null}}},
     "layer":[
      {"mark":{"type":"rule","strokeWidth":0.4,"color":"#000"},"encoding":{"y2":{"field":"hi"}}},
      {"mark":{"type":"tick","orient":"horizontal","size":3,"thickness":0.4,"color":"#000"},"encoding":{"y":{"field":"hi","type":"quantitative"}}},
      {"mark":{"type":"bar","stroke":"#000","strokeWidth":0.3},"encoding":{"fill":{"field":"k","type":"nominal","scale":{"domain":["Rescue","shTRIM28","C61A","C628R"],"range":["#000000","#a6a6a6","#ff0000","#8b0a0a"]},"legend":null}}},
      {"mark":{"type":"text","fontSize":2.5,"baseline":"bottom","dy":-0.5},"encoding":{"y":{"field":"hi","type":"quantitative"},"text":{"field":"sig"}}}
     ]},
    {"width":29,"height":44,"title":"BMP7","data":{"name":"bars"},"transform":[{"filter":"datum.g==='BMP7'"}],
     "encoding":{"x":{"field":"k","type":"nominal","sort":["Rescue","shTRIM28","C61A","C628R"],"scale":{"paddingInner":0.22,"paddingOuter":0.15},"axis":{"title":null,"labelAngle":-45,"labelFontSize":3,"tickSize":1,"labelPadding":0.5}},
      "y":{"field":"v","type":"quantitative","scale":{"domain":[0,2],"nice":false},"axis":{"values":[0,0.5,1,1.5,2],"format":".1f","title":null}}},
     "layer":[
      {"mark":{"type":"rule","strokeWidth":0.4,"color":"#000"},"encoding":{"y2":{"field":"hi"}}},
      {"mark":{"type":"tick","orient":"horizontal","size":3,"thickness":0.4,"color":"#000"},"encoding":{"y":{"field":"hi","type":"quantitative"}}},
      {"mark":{"type":"bar","stroke":"#000","strokeWidth":0.3},"encoding":{"fill":{"field":"k","type":"nominal","scale":{"domain":["Rescue","shTRIM28","C61A","C628R"],"range":["#000000","#a6a6a6","#ff0000","#8b0a0a"]},"legend":null}}},
      {"mark":{"type":"text","fontSize":2.5,"baseline":"bottom","dy":-0.5},"encoding":{"y":{"field":"hi","type":"quantitative"},"text":{"field":"sig"}}}
     ]}
   ]},
  {"title":{"text":"E.","anchor":"start","fontSize":7,"fontWeight":"bold","offset":-7},"spacing":9.5,
   "hconcat":[
    {"width":29,"height":44,"title":"PTCH1","data":{"name":"bars"},"transform":[{"filter":"datum.g==='PTCH1'"}],
     "encoding":{"x":{"field":"k","type":"nominal","sort":["Rescue","shTRIM28","C61A","C628R"],"scale":{"paddingInner":0.22,"paddingOuter":0.15},"axis":{"title":null,"labelAngle":-45,"labelFontSize":3,"tickSize":1,"labelPadding":0.5}},
      "y":{"field":"v","type":"quantitative","scale":{"domain":[0,1.5],"nice":false},"axis":{"values":[0,0.5,1,1.5],"format":".1f","title":"Relative mRNA fold change"}}},
     "layer":[
      {"mark":{"type":"rule","strokeWidth":0.4,"color":"#000"},"encoding":{"y2":{"field":"hi"}}},
      {"mark":{"type":"tick","orient":"horizontal","size":3,"thickness":0.4,"color":"#000"},"encoding":{"y":{"field":"hi","type":"quantitative"}}},
      {"mark":{"type":"bar","stroke":"#000","strokeWidth":0.3},"encoding":{"fill":{"field":"k","type":"nominal","scale":{"domain":["Rescue","shTRIM28","C61A","C628R"],"range":["#000000","#a6a6a6","#ff0000","#8b0a0a"]},"legend":null}}},
      {"mark":{"type":"text","fontSize":2.5,"baseline":"bottom","dy":-0.5},"encoding":{"y":{"field":"hi","type":"quantitative"},"text":{"field":"sig"}}}
     ]},
    {"width":29,"height":44,"title":"SMO","data":{"name":"bars"},"transform":[{"filter":"datum.g==='SMO'"}],
     "encoding":{"x":{"field":"k","type":"nominal","sort":["Rescue","shTRIM28","C61A","C628R"],"scale":{"paddingInner":0.22,"paddingOuter":0.15},"axis":{"title":null,"labelAngle":-45,"labelFontSize":3,"tickSize":1,"labelPadding":0.5}},
      "y":{"field":"v","type":"quantitative","scale":{"domain":[0,2],"nice":false},"axis":{"values":[0,0.5,1,1.5,2],"format":".1f","title":null}}},
     "layer":[
      {"mark":{"type":"rule","strokeWidth":0.4,"color":"#000"},"encoding":{"y2":{"field":"hi"}}},
      {"mark":{"type":"tick","orient":"horizontal","size":3,"thickness":0.4,"color":"#000"},"encoding":{"y":{"field":"hi","type":"quantitative"}}},
      {"mark":{"type":"bar","stroke":"#000","strokeWidth":0.3},"encoding":{"fill":{"field":"k","type":"nominal","scale":{"domain":["Rescue","shTRIM28","C61A","C628R"],"range":["#000000","#a6a6a6","#ff0000","#8b0a0a"]},"legend":null}}},
      {"mark":{"type":"text","fontSize":2.5,"baseline":"bottom","dy":-0.5},"encoding":{"y":{"field":"hi","type":"quantitative"},"text":{"field":"sig"}}}
     ]}
   ]}
 ]
},
{
 "spacing":34,
 "hconcat":[
  {"title":{"text":"F.","anchor":"start","fontSize":7,"fontWeight":"bold","offset":-7},"spacing":9.5,
   "hconcat":[
    {"width":29,"height":44,"title":"WNT1","data":{"name":"bars"},"transform":[{"filter":"datum.g==='WNT1'"}],
     "encoding":{"x":{"field":"k","type":"nominal","sort":["Rescue","shTRIM28","C61A","C628R"],"scale":{"paddingInner":0.22,"paddingOuter":0.15},"axis":{"title":null,"labelAngle":-45,"labelFontSize":3,"tickSize":1,"labelPadding":0.5}},
      "y":{"field":"v","type":"quantitative","scale":{"domain":[0,2],"nice":false},"axis":{"values":[0,0.5,1,1.5,2],"format":".1f","title":"Relative mRNA fold change"}}},
     "layer":[
      {"mark":{"type":"rule","strokeWidth":0.4,"color":"#000"},"encoding":{"y2":{"field":"hi"}}},
      {"mark":{"type":"tick","orient":"horizontal","size":3,"thickness":0.4,"color":"#000"},"encoding":{"y":{"field":"hi","type":"quantitative"}}},
      {"mark":{"type":"bar","stroke":"#000","strokeWidth":0.3},"encoding":{"fill":{"field":"k","type":"nominal","scale":{"domain":["Rescue","shTRIM28","C61A","C628R"],"range":["#000000","#a6a6a6","#ff0000","#8b0a0a"]},"legend":null}}},
      {"mark":{"type":"text","fontSize":2.5,"baseline":"bottom","dy":-0.5},"encoding":{"y":{"field":"hi","type":"quantitative"},"text":{"field":"sig"}}}
     ]},
    {"width":29,"height":44,"title":"EPCAM","data":{"name":"bars"},"transform":[{"filter":"datum.g==='EPCAM'"}],
     "encoding":{"x":{"field":"k","type":"nominal","sort":["Rescue","shTRIM28","C61A","C628R"],"scale":{"paddingInner":0.22,"paddingOuter":0.15},"axis":{"title":null,"labelAngle":-45,"labelFontSize":3,"tickSize":1,"labelPadding":0.5}},
      "y":{"field":"v","type":"quantitative","scale":{"domain":[0,1.5],"nice":false},"axis":{"values":[0,0.5,1,1.5],"format":".1f","title":null}}},
     "layer":[
      {"mark":{"type":"rule","strokeWidth":0.4,"color":"#000"},"encoding":{"y2":{"field":"hi"}}},
      {"mark":{"type":"tick","orient":"horizontal","size":3,"thickness":0.4,"color":"#000"},"encoding":{"y":{"field":"hi","type":"quantitative"}}},
      {"mark":{"type":"bar","stroke":"#000","strokeWidth":0.3},"encoding":{"fill":{"field":"k","type":"nominal","scale":{"domain":["Rescue","shTRIM28","C61A","C628R"],"range":["#000000","#a6a6a6","#ff0000","#8b0a0a"]},"legend":null}}},
      {"mark":{"type":"text","fontSize":2.5,"baseline":"bottom","dy":-0.5},"encoding":{"y":{"field":"hi","type":"quantitative"},"text":{"field":"sig"}}}
     ]},
    {"width":29,"height":44,"title":"DKK1","data":{"name":"bars"},"transform":[{"filter":"datum.g==='DKK1'"}],
     "encoding":{"x":{"field":"k","type":"nominal","sort":["Rescue","shTRIM28","C61A","C628R"],"scale":{"paddingInner":0.22,"paddingOuter":0.15},"axis":{"title":null,"labelAngle":-45,"labelFontSize":3,"tickSize":1,"labelPadding":0.5}},
      "y":{"field":"v","type":"quantitative","scale":{"domain":[0,2],"nice":false},"axis":{"values":[0,0.5,1,1.5,2],"format":".1f","title":null}}},
     "layer":[
      {"mark":{"type":"rule","strokeWidth":0.4,"color":"#000"},"encoding":{"y2":{"field":"hi"}}},
      {"mark":{"type":"tick","orient":"horizontal","size":3,"thickness":0.4,"color":"#000"},"encoding":{"y":{"field":"hi","type":"quantitative"}}},
      {"mark":{"type":"bar","stroke":"#000","strokeWidth":0.3},"encoding":{"fill":{"field":"k","type":"nominal","scale":{"domain":["Rescue","shTRIM28","C61A","C628R"],"range":["#000000","#a6a6a6","#ff0000","#8b0a0a"]},"legend":null}}},
      {"mark":{"type":"text","fontSize":2.5,"baseline":"bottom","dy":-0.5},"encoding":{"y":{"field":"hi","type":"quantitative"},"text":{"field":"sig"}}}
     ]}
   ]},
  {"title":{"text":"G.","anchor":"start","fontSize":7,"fontWeight":"bold","offset":-7},"spacing":9.5,
   "hconcat":[
    {"width":29,"height":44,"title":"NOTCH1","data":{"name":"bars"},"transform":[{"filter":"datum.g==='NOTCH1'"}],
     "encoding":{"x":{"field":"k","type":"nominal","sort":["Rescue","shTRIM28","C61A","C628R"],"scale":{"paddingInner":0.22,"paddingOuter":0.15},"axis":{"title":null,"labelAngle":-45,"labelFontSize":3,"tickSize":1,"labelPadding":0.5}},
      "y":{"field":"v","type":"quantitative","scale":{"domain":[0,3],"nice":false},"axis":{"values":[0,1,2,3],"format":"d","title":"Relative mRNA fold change"}}},
     "layer":[
      {"mark":{"type":"rule","strokeWidth":0.4,"color":"#000"},"encoding":{"y2":{"field":"hi"}}},
      {"mark":{"type":"tick","orient":"horizontal","size":3,"thickness":0.4,"color":"#000"},"encoding":{"y":{"field":"hi","type":"quantitative"}}},
      {"mark":{"type":"bar","stroke":"#000","strokeWidth":0.3},"encoding":{"fill":{"field":"k","type":"nominal","scale":{"domain":["Rescue","shTRIM28","C61A","C628R"],"range":["#000000","#a6a6a6","#ff0000","#8b0a0a"]},"legend":null}}},
      {"mark":{"type":"text","fontSize":2.5,"baseline":"bottom","dy":-0.5},"encoding":{"y":{"field":"hi","type":"quantitative"},"text":{"field":"sig"}}}
     ]},
    {"width":29,"height":44,"title":"MAML1","data":{"name":"bars"},"transform":[{"filter":"datum.g==='MAML1'"}],
     "encoding":{"x":{"field":"k","type":"nominal","sort":["Rescue","shTRIM28","C61A","C628R"],"scale":{"paddingInner":0.22,"paddingOuter":0.15},"axis":{"title":null,"labelAngle":-45,"labelFontSize":3,"tickSize":1,"labelPadding":0.5}},
      "y":{"field":"v","type":"quantitative","scale":{"domain":[0,2],"nice":false},"axis":{"values":[0,0.5,1,1.5,2],"format":".1f","title":null}}},
     "layer":[
      {"mark":{"type":"rule","strokeWidth":0.4,"color":"#000"},"encoding":{"y2":{"field":"hi"}}},
      {"mark":{"type":"tick","orient":"horizontal","size":3,"thickness":0.4,"color":"#000"},"encoding":{"y":{"field":"hi","type":"quantitative"}}},
      {"mark":{"type":"bar","stroke":"#000","strokeWidth":0.3},"encoding":{"fill":{"field":"k","type":"nominal","scale":{"domain":["Rescue","shTRIM28","C61A","C628R"],"range":["#000000","#a6a6a6","#ff0000","#8b0a0a"]},"legend":null}}},
      {"mark":{"type":"text","fontSize":2.5,"baseline":"bottom","dy":-0.5},"encoding":{"y":{"field":"hi","type":"quantitative"},"text":{"field":"sig"}}}
     ]}
   ]}
 ]
},
{
 "hconcat":[
  {"title":{"text":"H.","anchor":"start","fontSize":7,"fontWeight":"bold","offset":-7},"spacing":9.5,
   "hconcat":[
    {"width":29,"height":44,"title":"CDH1","data":{"name":"bars"},"transform":[{"filter":"datum.g==='CDH1'"}],
     "encoding":{"x":{"field":"k","type":"nominal","sort":["Rescue","shTRIM28","C61A","C628R"],"scale":{"paddingInner":0.22,"paddingOuter":0.15},"axis":{"title":null,"labelAngle":-45,"labelFontSize":3,"tickSize":1,"labelPadding":0.5}},
      "y":{"field":"v","type":"quantitative","scale":{"domain":[0,1.5],"nice":false},"axis":{"values":[0,0.5,1,1.5],"format":".1f","title":"Relative mRNA fold change"}}},
     "layer":[
      {"mark":{"type":"rule","strokeWidth":0.4,"color":"#000"},"encoding":{"y2":{"field":"hi"}}},
      {"mark":{"type":"tick","orient":"horizontal","size":3,"thickness":0.4,"color":"#000"},"encoding":{"y":{"field":"hi","type":"quantitative"}}},
      {"mark":{"type":"bar","stroke":"#000","strokeWidth":0.3},"encoding":{"fill":{"field":"k","type":"nominal","scale":{"domain":["Rescue","shTRIM28","C61A","C628R"],"range":["#000000","#a6a6a6","#ff0000","#8b0a0a"]},"legend":null}}},
      {"mark":{"type":"text","fontSize":2.5,"baseline":"bottom","dy":-0.5},"encoding":{"y":{"field":"hi","type":"quantitative"},"text":{"field":"sig"}}}
     ]},
    {"width":29,"height":44,"title":"ID1","data":{"name":"bars"},"transform":[{"filter":"datum.g==='ID1'"}],
     "encoding":{"x":{"field":"k","type":"nominal","sort":["Rescue","shTRIM28","C61A","C628R"],"scale":{"paddingInner":0.22,"paddingOuter":0.15},"axis":{"title":null,"labelAngle":-45,"labelFontSize":3,"tickSize":1,"labelPadding":0.5}},
      "y":{"field":"v","type":"quantitative","scale":{"domain":[0,1.5],"nice":false},"axis":{"values":[0,0.5,1,1.5],"format":".1f","title":null}}},
     "layer":[
      {"mark":{"type":"rule","strokeWidth":0.4,"color":"#000"},"encoding":{"y2":{"field":"hi"}}},
      {"mark":{"type":"tick","orient":"horizontal","size":3,"thickness":0.4,"color":"#000"},"encoding":{"y":{"field":"hi","type":"quantitative"}}},
      {"mark":{"type":"bar","stroke":"#000","strokeWidth":0.3},"encoding":{"fill":{"field":"k","type":"nominal","scale":{"domain":["Rescue","shTRIM28","C61A","C628R"],"range":["#000000","#a6a6a6","#ff0000","#8b0a0a"]},"legend":null}}},
      {"mark":{"type":"text","fontSize":2.5,"baseline":"bottom","dy":-0.5},"encoding":{"y":{"field":"hi","type":"quantitative"},"text":{"field":"sig"}}}
     ]},
    {"width":29,"height":44,"title":"TWIST2","data":{"name":"bars"},"transform":[{"filter":"datum.g==='TWIST2'"}],
     "encoding":{"x":{"field":"k","type":"nominal","sort":["Rescue","shTRIM28","C61A","C628R"],"scale":{"paddingInner":0.22,"paddingOuter":0.15},"axis":{"title":null,"labelAngle":-45,"labelFontSize":3,"tickSize":1,"labelPadding":0.5}},
      "y":{"field":"v","type":"quantitative","scale":{"domain":[0,1.5],"nice":false},"axis":{"values":[0,0.5,1,1.5],"format":".1f","title":null}}},
     "layer":[
      {"mark":{"type":"rule","strokeWidth":0.4,"color":"#000"},"encoding":{"y2":{"field":"hi"}}},
      {"mark":{"type":"tick","orient":"horizontal","size":3,"thickness":0.4,"color":"#000"},"encoding":{"y":{"field":"hi","type":"quantitative"}}},
      {"mark":{"type":"bar","stroke":"#000","strokeWidth":0.3},"encoding":{"fill":{"field":"k","type":"nominal","scale":{"domain":["Rescue","shTRIM28","C61A","C628R"],"range":["#000000","#a6a6a6","#ff0000","#8b0a0a"]},"legend":null}}},
      {"mark":{"type":"text","fontSize":2.5,"baseline":"bottom","dy":-0.5},"encoding":{"y":{"field":"hi","type":"quantitative"},"text":{"field":"sig"}}}
     ]}
   ]}
 ]
}
 ]
}
]
}
